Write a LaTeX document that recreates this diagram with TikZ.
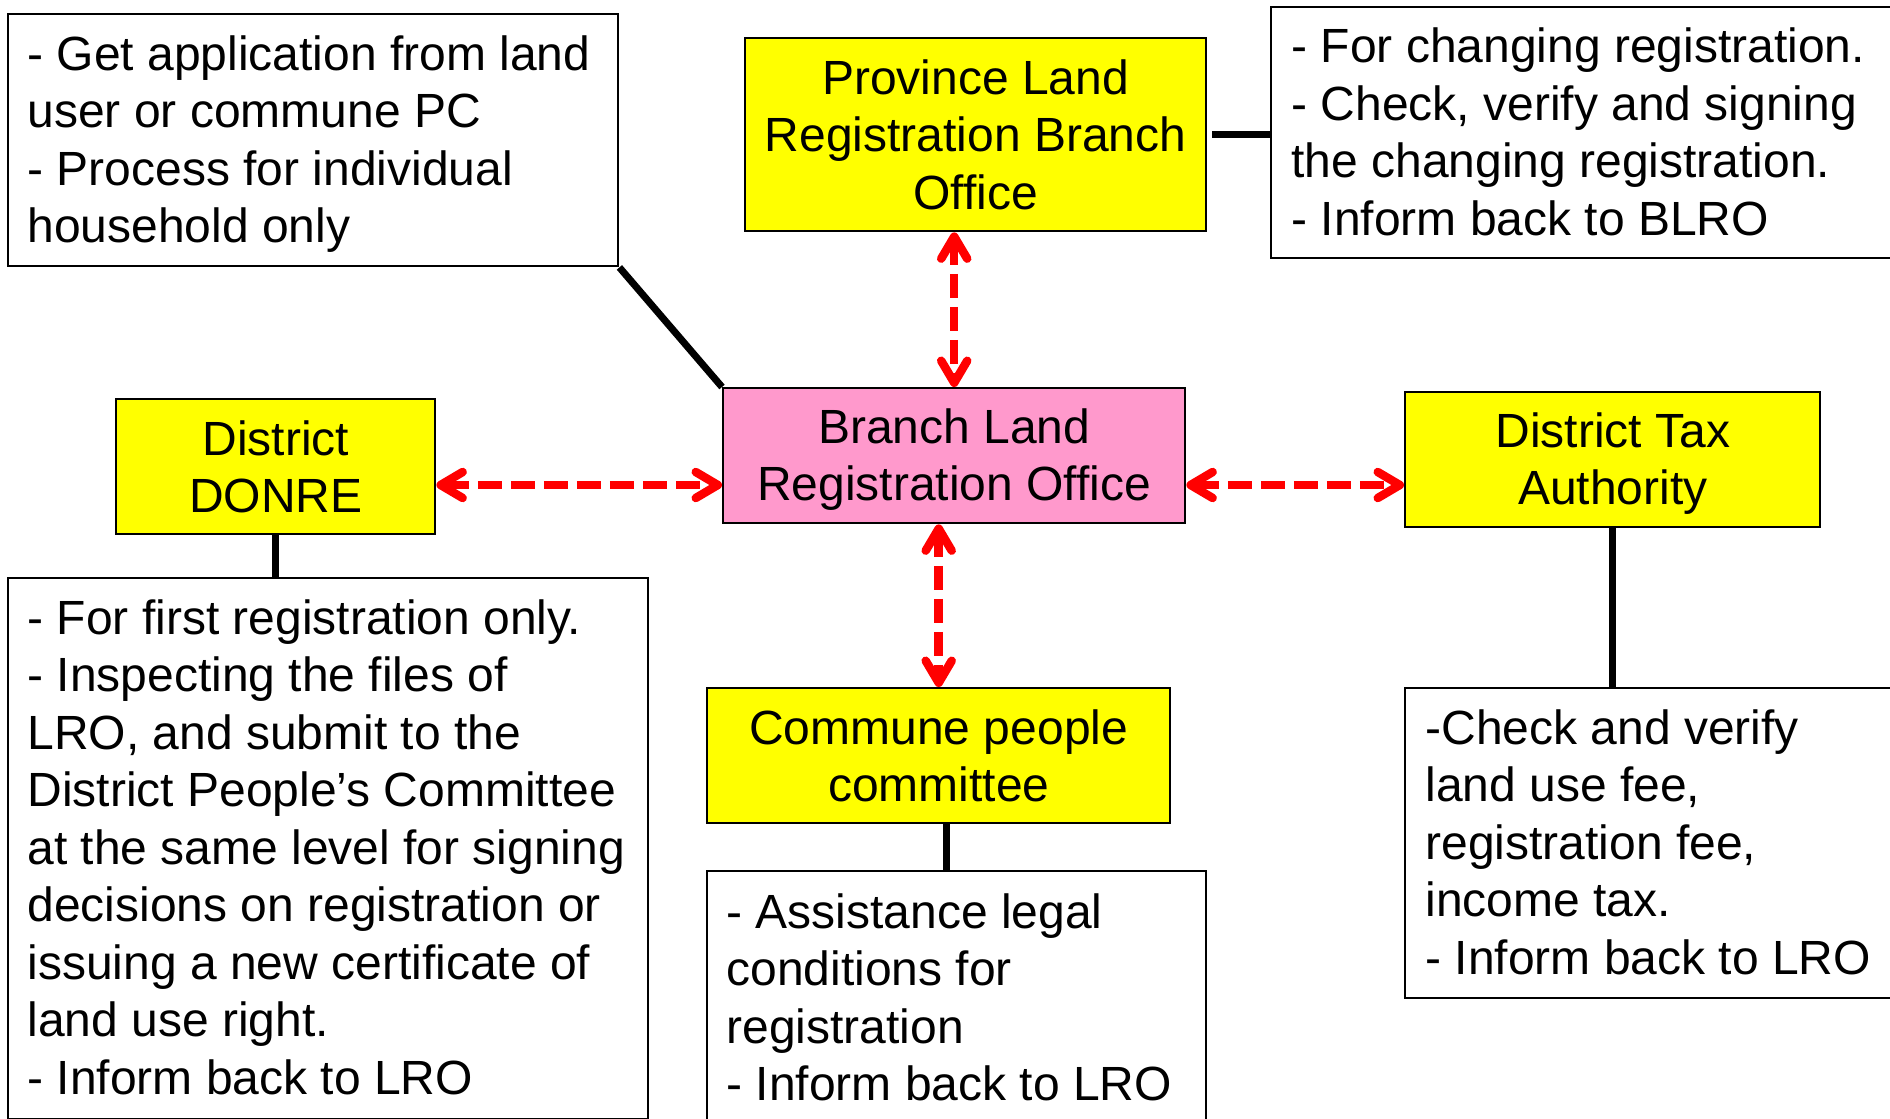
\documentclass[tikz,border=0pt]{standalone}
\usepackage{fontspec}
\setmainfont{Liberation Sans}
\usetikzlibrary{arrows.meta,calc}
\newcommand\fs{\fontsize{24}{28.75}\selectfont}
\definecolor{pinkc}{RGB}{255,153,204}
\definecolor{yel}{RGB}{255,255,0}
\begin{document}
\begin{tikzpicture}[x=0.5pt,y=-0.5pt,
  boxline/.style={draw=black, line width=1.2pt, inner sep=0pt, anchor=north west},
  tbox/.style={boxline, fill=white},
  ybox/.style={boxline, fill=yel, align=center, font=\fs},
  pbox/.style={boxline, fill=pinkc, align=center, font=\fs},
  ctxt/.style={align=center, font=\fs, inner sep=0pt},
  txt/.style={align=left, font=\fs, inner sep=0pt, anchor=west},
  link/.style={line width=3.5pt, black},
  arr/.style={red, line width=4.25pt, dash pattern=on 12pt off 4.5pt,
    arrows={Straight Barb[round,length=11pt,width=13pt]-Straight Barb[round,length=11pt,width=13pt]}}
]
\useasboundingbox (0,0) rectangle (1890,1119);
\clip (0,0) rectangle (1890,1119);
\fill[white] (0,0) rectangle (1890,1119);

% boxes
\node[tbox, minimum width=305pt, minimum height=126pt] (A) at (7,13) {};
\node[txt] (At) at ([xshift=10pt,yshift=-2pt]A.west) {- Get application from land\\user or commune PC\\- Process for individual\\household only};

\node[ybox, minimum width=230.5pt, minimum height=96.5pt] (prov) at (744,37) {Province Land\\Registration Branch\\Office};

\node[tbox, minimum width=315pt, minimum height=125.5pt] (TR) at (1270,6) {};
\node[txt] (TRt) at ([xshift=10.5pt,yshift=0.5pt]TR.west) {- For changing registration.\\- Check, verify and signing\\the changing registration.\\- Inform back to BLRO};

\node[pbox, minimum width=231pt, minimum height=67.5pt] (branch) at (722,387) {};
\node[ctxt] (branchT) at ([yshift=-2pt]branch.center) {Branch Land\\Registration Office};

\node[ybox, minimum width=159.5pt, minimum height=67.5pt] (donre) at (115,398) {District\\DONRE};

\node[ybox, minimum width=207.5pt, minimum height=67.5pt] (tax) at (1404,391) {};
\node[ctxt] (taxT) at ([yshift=-2pt]tax.center) {District Tax\\Authority};

\node[ybox, minimum width=231.5pt, minimum height=67.5pt] (comm) at (706,687) {Commune people\\committee};

\node[tbox, minimum width=320pt, minimum height=270.5pt] (dt) at (7,577) {};
\node[txt] (dtt) at ([xshift=10pt,yshift=0.75pt]dt.west) {- For first registration only.\\- Inspecting the files of\\LRO, and submit to the\\District People’s Committee\\at the same level for signing\\decisions on registration or\\issuing a new certificate of\\land use right.\\- Inform back to LRO};

\node[tbox, minimum width=249.5pt, minimum height=140pt] (ct) at (706,870) {};
\node[txt] (ctt) at ([xshift=10pt,yshift=7pt]ct.west) {- Assistance legal\\conditions for\\registration\\- Inform back to LRO};

\node[tbox, minimum width=250pt, minimum height=155pt] (tt) at (1404,687) {};
\node[txt] (ttt) at ([xshift=10.5pt,yshift=0.5pt]tt.west) {-Check and verify\\land use fee,\\registration fee,\\income tax.\\- Inform back to LRO};

% black connectors
\draw[link] (A.south east) -- (branch.north west);
\draw[link, shorten <=2.5pt] (prov.east) -- (TR.west |- prov.east);
\draw[link] (donre.south) -- (dt.north -| donre.south);
\draw[link] ([xshift=4pt]comm.south) -- ([xshift=4pt]comm.south |- ct.north);
\draw[link] (tax.south) -- (tt.north -| tax.south);

% red dashed arrows
\coordinate (hy) at (0,485);
\draw[arr] (branch.north |- prov.south) -- (branch.north);
\draw[arr] (comm.north |- branch.south) -- (comm.north);
\draw[arr] (donre.east |- hy) -- (branch.west |- hy);
\draw[arr] (branch.east |- hy) -- (tax.west |- hy);
\end{tikzpicture}
\end{document}
